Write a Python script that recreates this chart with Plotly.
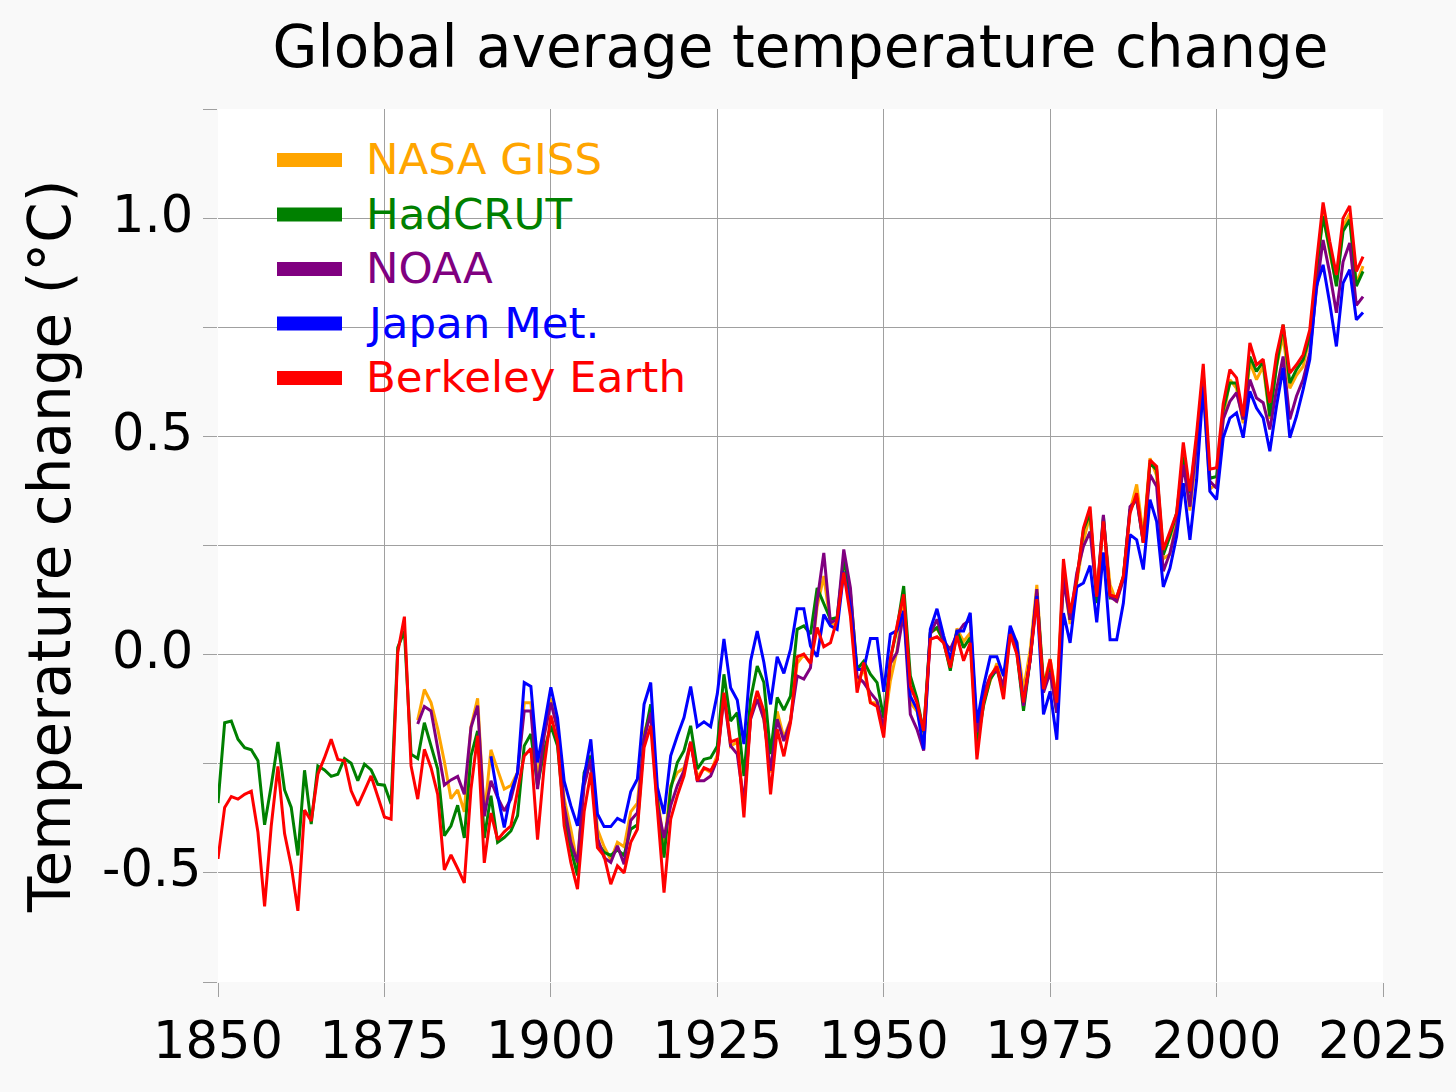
import plotly.graph_objects as go

# ---------------- data (°C anomalies) ----------------
years_hadcrut = list(range(1850, 2023))
hadcrut = [
    -0.34, -0.156, -0.152, -0.194, -0.213, -0.218, -0.243, -0.39, -0.30, -0.20,
    -0.31, -0.35, -0.46, -0.265, -0.388, -0.255, -0.264, -0.279, -0.274, -0.238,
    -0.249, -0.289, -0.251, -0.264, -0.297, -0.299, -0.342, 0.016, 0.054, -0.228,
    -0.238, -0.156, -0.209, -0.262, -0.415, -0.392, -0.345, -0.42, -0.232, -0.175,
    -0.42, -0.323, -0.43, -0.419, -0.404, -0.369, -0.209, -0.182, -0.30, -0.22,
    -0.163, -0.209, -0.369, -0.445, -0.506, -0.27, -0.232, -0.43, -0.453, -0.46,
    -0.447, -0.46, -0.40, -0.39, -0.194, -0.114, -0.33, -0.465, -0.308, -0.247,
    -0.22, -0.163, -0.262, -0.24, -0.236, -0.21, -0.045, -0.152, -0.133, -0.278,
    -0.102, -0.026, -0.064, -0.228, -0.098, -0.127, -0.095, 0.058, 0.066, 0.047,
    0.153, 0.115, 0.081, 0.085, 0.218, 0.142, -0.034, -0.015, -0.045, -0.064,
    -0.145, -0.01, 0.06, 0.157, -0.049, -0.10, -0.178, 0.05, 0.062, 0.031,
    -0.037, 0.054, 0.016, 0.039, -0.205, -0.117, -0.056, -0.034, -0.083, 0.054,
    0.005, -0.129, -0.011, 0.142, -0.068, -0.026, -0.133, 0.20, 0.08, 0.172,
    0.286, 0.324, 0.118, 0.317, 0.13, 0.13, 0.179, 0.332, 0.358, 0.256,
    0.439, 0.423, 0.229, 0.271, 0.324, 0.454, 0.37, 0.492, 0.645, 0.404,
    0.408, 0.561, 0.622, 0.622, 0.539, 0.683, 0.649, 0.672, 0.546, 0.66,
    0.756, 0.622, 0.653, 0.676, 0.729, 0.874, 1.004, 0.928, 0.844, 0.97,
    0.996, 0.844, 0.878,
]

years_berkeley = list(range(1850, 2023))
berkeley = [
    -0.468, -0.35, -0.325, -0.331, -0.32, -0.313, -0.407, -0.577, -0.392, -0.256,
    -0.41, -0.484, -0.587, -0.356, -0.381, -0.274, -0.236, -0.194, -0.24, -0.243,
    -0.312, -0.346, -0.312, -0.278, -0.325, -0.372, -0.377, 0.005, 0.087, -0.255,
    -0.331, -0.217, -0.259, -0.32, -0.493, -0.459, -0.49, -0.523, -0.308, -0.186,
    -0.477, -0.363, -0.424, -0.406, -0.392, -0.308, -0.232, -0.215, -0.424, -0.255,
    -0.14, -0.198, -0.392, -0.476, -0.537, -0.36, -0.27, -0.442, -0.461, -0.526,
    -0.484, -0.50, -0.43, -0.40, -0.213, -0.163, -0.36, -0.545, -0.377, -0.323,
    -0.278, -0.20, -0.289, -0.259, -0.266, -0.24, -0.087, -0.20, -0.194, -0.373,
    -0.144, -0.083, -0.129, -0.32, -0.171, -0.233, -0.156, -0.005, 0.001, -0.02,
    0.062, 0.018, 0.027, 0.081, 0.188, 0.088, -0.087, -0.018, -0.11, -0.119,
    -0.19, -0.011, 0.066, 0.138, -0.072, -0.11, -0.175, 0.035, 0.041, 0.027,
    -0.03, 0.043, -0.014, 0.027, -0.24, -0.11, -0.049, -0.027, -0.102, 0.047,
    0.001, -0.11, -0.011, 0.127, -0.079, -0.011, -0.11, 0.219, 0.095, 0.172,
    0.29, 0.339, 0.133, 0.305, 0.137, 0.132, 0.179, 0.324, 0.37, 0.256,
    0.446, 0.431, 0.24, 0.282, 0.324, 0.486, 0.374, 0.507, 0.666, 0.425,
    0.428, 0.575, 0.653, 0.634, 0.546, 0.714, 0.664, 0.677, 0.577, 0.687,
    0.756, 0.645, 0.664, 0.687, 0.744, 0.897, 1.036, 0.947, 0.87, 1.0,
    1.028, 0.878, 0.912,
]

years_giss = list(range(1880, 2023))
giss = [
    -0.15, -0.08, -0.11, -0.17, -0.245, -0.33, -0.31, -0.36, -0.165, -0.10,
    -0.37, -0.218, -0.264, -0.308, -0.30, -0.27, -0.11, -0.11, -0.285, -0.178,
    -0.10, -0.17, -0.33, -0.40, -0.48, -0.28, -0.23, -0.40, -0.44, -0.47,
    -0.43, -0.44, -0.36, -0.34, -0.18, -0.13, -0.32, -0.44, -0.30, -0.27,
    -0.26, -0.20, -0.28, -0.26, -0.27, -0.23, -0.09, -0.21, -0.20, -0.35,
    -0.14, -0.09, -0.15, -0.27, -0.13, -0.19, -0.15, -0.02, -0.00, -0.02,
    0.11, 0.18, 0.07, 0.07, 0.21, 0.10, -0.07, -0.03, -0.11, -0.11,
    -0.17, -0.06, 0.01, 0.12, -0.11, -0.13, -0.19, 0.05, 0.06, 0.03,
    -0.03, 0.06, 0.03, 0.05, -0.20, -0.11, -0.06, -0.02, -0.08, 0.05,
    0.03, -0.08, 0.01, 0.16, -0.07, -0.01, -0.10, 0.18, 0.07, 0.16,
    0.26, 0.32, 0.14, 0.31, 0.16, 0.12, 0.18, 0.33, 0.39, 0.27,
    0.45, 0.41, 0.22, 0.23, 0.31, 0.45, 0.33, 0.46, 0.61, 0.38,
    0.39, 0.54, 0.63, 0.61, 0.53, 0.67, 0.63, 0.66, 0.54, 0.66,
    0.73, 0.61, 0.64, 0.66, 0.73, 0.88, 1.01, 0.92, 0.85, 0.98,
    1.01, 0.85, 0.89,
]

years_noaa = list(range(1880, 2023))
noaa = [
    -0.159, -0.119, -0.129, -0.217, -0.299, -0.287, -0.279, -0.32, -0.167, -0.117,
    -0.37, -0.289, -0.327, -0.358, -0.331, -0.27, -0.129, -0.129, -0.308, -0.186,
    -0.11, -0.17, -0.346, -0.43, -0.476, -0.30, -0.24, -0.42, -0.465, -0.476,
    -0.438, -0.48, -0.38, -0.362, -0.194, -0.133, -0.346, -0.42, -0.346, -0.30,
    -0.266, -0.20, -0.289, -0.289, -0.278, -0.24, -0.095, -0.209, -0.228, -0.339,
    -0.148, -0.102, -0.148, -0.266, -0.148, -0.198, -0.152, -0.049, -0.056, -0.03,
    0.123, 0.233, 0.073, 0.081, 0.241, 0.153, -0.049, -0.064, -0.087, -0.106,
    -0.17, -0.02, 0.005, 0.096, -0.137, -0.171, -0.22, 0.047, 0.081, 0.031,
    0.012, 0.047, 0.069, 0.08, -0.178, -0.087, -0.049, -0.034, -0.072, 0.054,
    0.012, -0.117, -0.011, 0.15, -0.087, -0.041, -0.133, 0.172, 0.08, 0.187,
    0.248, 0.282, 0.133, 0.32, 0.133, 0.122, 0.172, 0.339, 0.355, 0.256,
    0.412, 0.385, 0.191, 0.233, 0.294, 0.435, 0.339, 0.484, 0.629, 0.397,
    0.381, 0.539, 0.58, 0.60, 0.539, 0.63, 0.588, 0.577, 0.516, 0.607,
    0.683, 0.539, 0.592, 0.63, 0.691, 0.836, 0.95, 0.874, 0.783, 0.90,
    0.943, 0.80, 0.82,
]

years_jma = list(range(1891, 2023))
jma = [
    -0.233, -0.323, -0.396, -0.316, -0.27, -0.064, -0.073, -0.247, -0.163,
    -0.075, -0.145, -0.29, -0.346, -0.392, -0.28, -0.194, -0.365, -0.394, -0.394,
    -0.375, -0.383, -0.314, -0.285, -0.114, -0.064, -0.304, -0.365, -0.232, -0.186,
    -0.144, -0.073, -0.165, -0.154, -0.165, -0.09, 0.036, -0.076, -0.104, -0.205,
    -0.015, 0.054, -0.018, -0.114, -0.005, -0.043, 0.012, 0.105, 0.105, 0.02,
    -0.005, 0.092, 0.066, 0.058, 0.19, 0.11, -0.034, -0.034, 0.037, 0.037,
    -0.085, 0.047, 0.055, 0.10, -0.095, -0.125, -0.217, 0.058, 0.105, 0.043,
    -0.011, 0.054, 0.054, 0.096, -0.156, -0.072, -0.005, -0.005, -0.049, 0.066,
    0.027, -0.11, -0.011, 0.134, -0.137, -0.084, -0.195, 0.095, 0.027, 0.155,
    0.164, 0.204, 0.074, 0.234, 0.034, 0.034, 0.118, 0.275, 0.263, 0.195,
    0.355, 0.305, 0.155, 0.198, 0.271, 0.393, 0.263, 0.40, 0.614, 0.374,
    0.355, 0.497, 0.542, 0.554, 0.497, 0.603, 0.565, 0.542, 0.466, 0.569,
    0.657, 0.497, 0.546, 0.607, 0.676, 0.844, 0.893, 0.805, 0.706, 0.851,
    0.882, 0.767, 0.784,
]

series_names = ["NASA GISS", "HadCRUT", "NOAA", "Japan Met.", "Berkeley Earth"]
series_colors = ["orange", "green", "purple", "blue", "red"]
series_x = [years_giss, years_hadcrut, years_noaa, years_jma, years_berkeley]
series_y = [giss, hadcrut, noaa, jma, berkeley]

x_ticks = [1850, 1875, 1900, 1925, 1950, 1975, 2000, 2025]
y_ticks = [-0.75, -0.5, -0.25, 0.0, 0.25, 0.5, 0.75, 1.0, 1.25]
y_ticklabels = ["", "-0.5", "", "0.0", "", "0.5", "", "1.0", ""]

# ---------------- figure ----------------
FONT = "DejaVu Sans"
GRID = "#a0a0a0"

fig = go.Figure()
for name, color, xs, ys in zip(series_names, series_colors, series_x, series_y):
    fig.add_trace(go.Scatter(x=xs, y=ys, mode="lines", name=name,
                             line=dict(color=color, width=3),
                             showlegend=False))

L, R, T, B = 218, 73, 109, 110
W, H = 1456, 1092
pw, ph = W - L - R, H - T - B
def px_x(px):
    return (px - L) / pw
def px_y(py):
    return (H - B - py) / ph

# legend drawn as shapes + coloured text (long thick swatches as in reference)
for i, (name, color) in enumerate(zip(series_names, series_colors)):
    yc = 160 + i * 54.5
    fig.add_shape(type="line", xref="paper", yref="paper",
                  x0=px_x(277), x1=px_x(342), y0=px_y(yc), y1=px_y(yc),
                  line=dict(color=color, width=14))
    fig.add_annotation(xref="paper", yref="paper", x=px_x(364), y=px_y(yc - 1),
                       xanchor="left", yanchor="middle", showarrow=False,
                       text=name, font=dict(family=FONT, size=43.5, color=color))

# y tick labels, centred on a common column like the reference
for val, lab in zip(y_ticks, y_ticklabels):
    if lab:
        fig.add_annotation(xref="paper", yref="y", x=px_x(152), y=val,
                           xanchor="center", yanchor="middle", showarrow=False,
                           yshift=4, text=lab,
                           font=dict(family=FONT, size=51, color="black"))

fig.add_annotation(xref="paper", yref="paper", x=px_x(50), y=px_y(547),
                   xanchor="center", yanchor="middle", showarrow=False,
                   textangle=-90, text="Temperature change (°C)",
                   font=dict(family=FONT, size=58, color="black"))

fig.update_layout(
    width=W, height=H,
    margin=dict(l=L, r=R, t=T, b=B, autoexpand=False),
    paper_bgcolor="#f9f9f9",
    plot_bgcolor="white",
    title=dict(text="Global average temperature change",
               x=0.5, xref="paper", xanchor="center",
               y=1 - 47 / H, yref="container", yanchor="middle",
               font=dict(family=FONT, size=58, color="black")),
    font=dict(family=FONT, color="black"),
    showlegend=False,
)
fig.update_xaxes(range=[1850, 2025], tickvals=x_ticks,
                 ticks="outside", ticklen=14, tickwidth=1, tickcolor=GRID,
                 showgrid=True, gridcolor=GRID, gridwidth=1,
                 zeroline=False, showline=False,
                 tickfont=dict(family=FONT, size=51, color="black"))
fig.update_yaxes(range=[-0.75, 1.25], tickvals=y_ticks,
                 ticktext=[""] * len(y_ticks),
                 ticks="outside", ticklen=14, tickwidth=1, tickcolor=GRID,
                 showgrid=True, gridcolor=GRID, gridwidth=1,
                 zeroline=False, showline=False,
                 tickfont=dict(family=FONT, size=51, color="black"))

fig.write_html("out.html",
               config={"displayModeBar": False},
               post_script="document.body.style.margin='0';"
                           "document.body.style.background='#f9f9f9';")
